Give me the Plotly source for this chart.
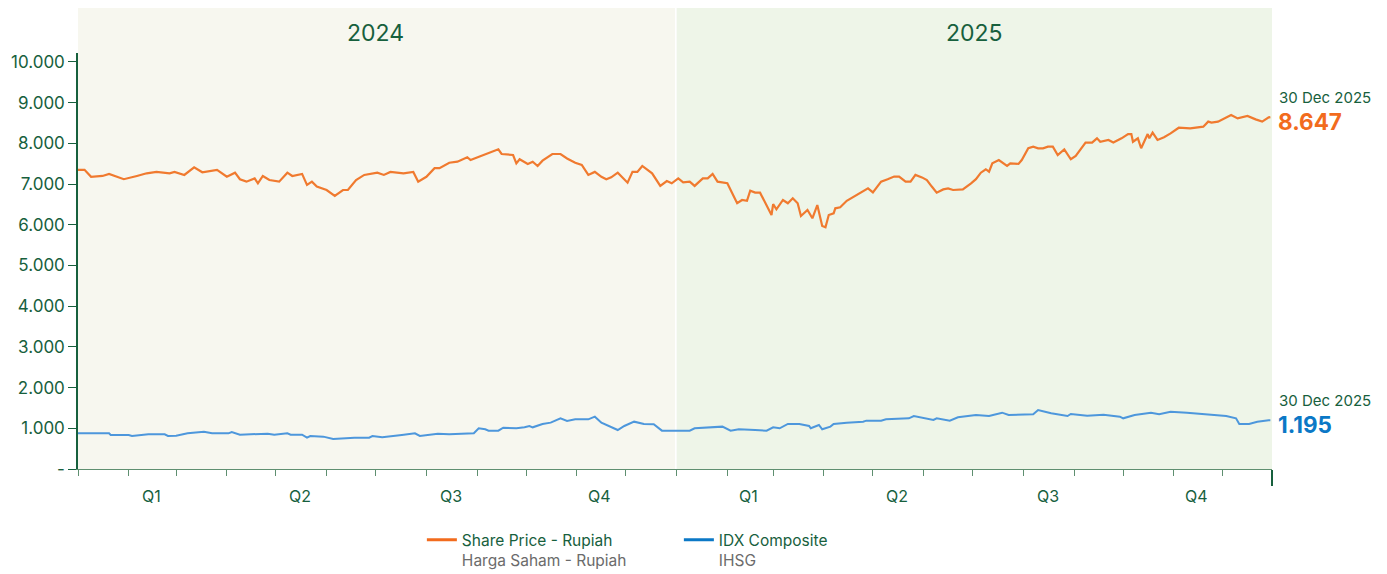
import plotly.graph_objects as go

# ---------------- data ----------------
share_dates = [
    "2024-01-01","2024-01-05","2024-01-09","2024-01-16","2024-01-20","2024-01-29","2024-02-06","2024-02-12",
    "2024-02-18","2024-02-26","2024-02-29","2024-03-06","2024-03-12","2024-03-17","2024-03-26","2024-04-01",
    "2024-04-06","2024-04-09","2024-04-13","2024-04-18","2024-04-20","2024-04-23","2024-04-27","2024-05-03",
    "2024-05-08","2024-05-11","2024-05-17","2024-05-20","2024-05-23","2024-05-26","2024-06-01","2024-06-06",
    "2024-06-11","2024-06-14","2024-06-19","2024-06-24","2024-07-02","2024-07-06","2024-07-10","2024-07-18",
    "2024-07-24","2024-07-27","2024-08-01","2024-08-06","2024-08-09","2024-08-15","2024-08-20","2024-08-26",
    "2024-08-28","2024-09-03","2024-09-07","2024-09-14","2024-09-16","2024-09-23","2024-09-25","2024-09-27",
    "2024-10-02","2024-10-05","2024-10-08","2024-10-11","2024-10-17","2024-10-22","2024-10-26","2024-10-31",
    "2024-11-04","2024-11-08","2024-11-12","2024-11-16","2024-11-19","2024-11-22","2024-11-26","2024-12-02",
    "2024-12-05","2024-12-08","2024-12-11","2024-12-17","2024-12-22","2024-12-26","2024-12-29","2025-01-02",
    "2025-01-05","2025-01-09","2025-01-12","2025-01-17","2025-01-20","2025-01-23","2025-01-26","2025-02-01",
    "2025-02-04","2025-02-07","2025-02-10","2025-02-13","2025-02-15","2025-02-18","2025-02-21","2025-02-24",
    "2025-02-28","2025-03-01","2025-03-03","2025-03-07","2025-03-10","2025-03-13","2025-03-16","2025-03-18",
    "2025-03-22","2025-03-25","2025-03-28","2025-03-31","2025-04-02","2025-04-04","2025-04-07","2025-04-08",
    "2025-04-11","2025-04-15","2025-04-19","2025-04-23","2025-04-28","2025-05-01","2025-05-06","2025-05-10",
    "2025-05-14","2025-05-17","2025-05-21","2025-05-24","2025-05-27","2025-05-31","2025-06-03","2025-06-06",
    "2025-06-09","2025-06-13","2025-06-16","2025-06-19","2025-06-25","2025-06-30","2025-07-03","2025-07-06",
    "2025-07-09","2025-07-11","2025-07-13","2025-07-17","2025-07-20","2025-07-22","2025-07-24","2025-07-29",
    "2025-07-31","2025-08-04","2025-08-07","2025-08-10","2025-08-13","2025-08-16","2025-08-19","2025-08-22",
    "2025-08-26","2025-08-30","2025-09-02","2025-09-08","2025-09-12","2025-09-15","2025-09-17","2025-09-22",
    "2025-09-25","2025-09-30","2025-10-04","2025-10-06","2025-10-07","2025-10-10","2025-10-12","2025-10-16",
    "2025-10-17","2025-10-19","2025-10-22","2025-10-26","2025-10-30","2025-11-04","2025-11-11","2025-11-14",
    "2025-11-19","2025-11-22","2025-11-24","2025-11-28","2025-12-02","2025-12-06","2025-12-10","2025-12-16",
    "2025-12-21","2025-12-25","2025-12-29","2025-12-30",
]
share_values = [
    7350,7350,7180,7200,7250,7120,7200,7265,
    7300,7265,7300,7225,7410,7290,7350,7180,
    7280,7120,7060,7140,7020,7200,7100,7060,
    7280,7200,7250,6980,7060,6940,6855,6710,
    6855,6855,7100,7225,7280,7225,7300,7265,
    7300,7060,7180,7390,7390,7525,7550,7660,
    7590,7690,7755,7855,7740,7715,7510,7610,
    7495,7550,7445,7575,7740,7740,7630,7525,
    7470,7225,7300,7180,7120,7165,7280,7035,
    7300,7300,7445,7265,6955,7075,7020,7140,
    7045,7060,6955,7140,7140,7250,7060,7020,
    6775,6530,6610,6590,6840,6790,6790,6570,
    6240,6510,6380,6610,6530,6650,6530,6215,
    6365,6160,6485,5970,5940,6240,6280,6405,
    6430,6590,6690,6775,6895,6795,7060,7120,
    7185,7185,7060,7060,7225,7165,7100,6940,
    6790,6870,6895,6855,6870,7020,7120,7280,
    7365,7305,7510,7590,7510,7445,7510,7495,
    7590,7880,7920,7880,7880,7920,7920,7715,
    7855,7610,7690,8020,8020,8125,8040,8085,
    8020,8125,8230,8230,8040,8125,7880,8230,
    8125,8265,8085,8150,8245,8385,8370,8385,
    8410,8535,8510,8535,8615,8700,8615,8675,
    8590,8535,8640,8647,
]

idx_dates = [
    "2024-01-01","2024-01-20","2024-01-21","2024-02-01","2024-02-03","2024-02-09","2024-02-13","2024-02-23",
    "2024-02-25","2024-03-01","2024-03-08","2024-03-18","2024-03-23","2024-04-02","2024-04-04","2024-04-09",
    "2024-04-24","2024-04-26","2024-04-30","2024-05-08","2024-05-10","2024-05-17","2024-05-20","2024-05-22",
    "2024-05-30","2024-06-05","2024-06-18","2024-06-27","2024-06-29","2024-07-05","2024-07-17","2024-07-25",
    "2024-07-28","2024-08-08","2024-08-15","2024-08-30","2024-09-02","2024-09-06","2024-09-08","2024-09-14",
    "2024-09-17","2024-09-25","2024-09-30","2024-10-03","2024-10-05","2024-10-11","2024-10-16","2024-10-22",
    "2024-10-26","2024-10-31","2024-11-08","2024-11-12","2024-11-16","2024-11-21","2024-11-26","2024-11-30",
    "2024-12-06","2024-12-12","2024-12-18","2024-12-23","2025-01-01","2025-01-09","2025-01-12","2025-01-27",
    "2025-01-29","2025-02-03","2025-02-08","2025-02-18","2025-02-25","2025-03-01","2025-03-05","2025-03-10",
    "2025-03-17","2025-03-23","2025-03-24","2025-03-29","2025-03-31","2025-04-05","2025-04-07","2025-04-15",
    "2025-04-25","2025-04-27","2025-05-06","2025-05-09","2025-05-23","2025-05-26","2025-06-07","2025-06-09",
    "2025-06-17","2025-06-22","2025-07-03","2025-07-11","2025-07-19","2025-07-23","2025-08-07","2025-08-10",
    "2025-08-18","2025-08-28","2025-08-30","2025-09-09","2025-09-19","2025-09-29","2025-10-01","2025-10-08",
    "2025-10-18","2025-10-23","2025-10-30","2025-11-09","2025-11-21","2025-12-03","2025-12-09","2025-12-11",
    "2025-12-17","2025-12-22","2025-12-29","2025-12-30",
]
idx_values = [
    877,877,835,835,811,835,852,852,
    811,820,877,917,877,877,909,843,
    852,868,843,877,843,843,770,811,
    795,737,770,770,811,778,835,877,
    811,868,852,877,1000,975,942,942,
    1016,1000,1024,1057,1024,1106,1139,1245,
    1180,1220,1220,1286,1139,1057,958,1057,
    1163,1106,1098,942,942,942,1000,1024,
    1041,942,975,958,942,1024,1000,1106,
    1106,1057,1000,1082,975,1041,1106,1139,
    1163,1188,1188,1220,1245,1302,1204,1245,
    1188,1270,1327,1302,1384,1327,1343,1450,
    1368,1302,1351,1310,1335,1286,1245,1327,
    1384,1343,1408,1384,1351,1302,1245,1106,
    1106,1163,1195,1195,
]

years = ["2024", "2025"]
year_starts = ["2024-01-01", "2025-01-01"]
year_ends = ["2024-12-31", "2025-12-31"]
year_mids = ["2024-07-01", "2025-07-02"]
year_fills = ["#f7f7ef", "#eef5e8"]

quarter_labels = ["Q1", "Q2", "Q3", "Q4", "Q1", "Q2", "Q3", "Q4"]
quarter_mids = ["2024-02-15", "2024-05-16", "2024-08-16", "2024-11-15",
                "2025-02-14", "2025-05-16", "2025-08-16", "2025-11-15"]
quarter_bounds = ["2024-01-01", "2024-04-01", "2024-07-01", "2024-10-01", "2025-01-01",
                  "2025-04-01", "2025-07-01", "2025-10-01", "2025-12-31"]
month_starts = ["2024-%02d-01" % m for m in range(1, 13)] + ["2025-%02d-01" % m for m in range(1, 13)]

y_ticks = [0, 1000, 2000, 3000, 4000, 5000, 6000, 7000, 8000, 9000, 10000]
y_ticktext = ["-", "1.000", "2.000", "3.000", "4.000", "5.000", "6.000", "7.000", "8.000", "9.000", "10.000"]

last_label = "30 Dec 2025"
share_last_text = "8.647"
idx_last_text = "1.195"

# ---------------- styling ----------------
GREEN = "#17603d"
ORANGE = "#f07a2f"
ORANGE_TXT = "#f26b1d"
BLUE_LINE = "#4d97dc"
BLUE = "#0b78c6"
FONT = "Inter"

fig = go.Figure()

fig.add_trace(go.Scatter(x=share_dates, y=share_values, mode="lines",
                         line=dict(color=ORANGE, width=2.2), showlegend=False, hoverinfo="skip"))
fig.add_trace(go.Scatter(x=idx_dates, y=idx_values, mode="lines",
                         line=dict(color=BLUE_LINE, width=2), showlegend=False, hoverinfo="skip"))

# legend-only entries
fig.add_trace(go.Scatter(x=[None], y=[None], mode="lines", line=dict(color=ORANGE_TXT, width=3),
                         name="Share Price - Rupiah<br><span style='color:#6b6b6b'>Harga Saham - Rupiah</span>"))
fig.add_trace(go.Scatter(x=[None], y=[None], mode="lines", line=dict(color=BLUE, width=3),
                         name="IDX Composite<br><span style='color:#6b6b6b'>IHSG</span>"))

shapes = []
for s, e, c in zip(year_starts, year_ends, year_fills):
    shapes.append(dict(type="rect", xref="x", yref="paper", x0=s, x1=e, y0=0, y1=1.1106,
                       fillcolor=c, line=dict(width=0), layer="below"))

annotations = []
for y, m in zip(years, year_mids):
    annotations.append(dict(x=m, y=1.048, xref="x", yref="paper", text=y, showarrow=False,
                            font=dict(family=FONT, size=23, color=GREEN), xanchor="center", yanchor="middle"))
for q, m in zip(quarter_labels, quarter_mids):
    annotations.append(dict(x=m, y=-0.064, xref="x", yref="paper", text=q, showarrow=False,
                            font=dict(family=FONT, size=16, color=GREEN), xanchor="center", yanchor="middle"))

for val, txt, col in [(share_values[-1], share_last_text, ORANGE_TXT), (idx_values[-1], idx_last_text, BLUE)]:
    annotations.append(dict(x=1.004, y=val, xref="paper", yref="y", text=last_label, showarrow=False,
                            xanchor="left", yanchor="middle", yshift=20,
                            font=dict(family=FONT, size=15, color=GREEN)))
    annotations.append(dict(x=1.003, y=val, xref="paper", yref="y", text="<b>" + txt + "</b>", showarrow=False,
                            xanchor="left", yanchor="middle", yshift=-4,
                            font=dict(family=FONT, size=22.5, color=col)))

# the page body adds an 8px offset, so the figure is 8px smaller and margins are compensated
fig.update_layout(
    width=1379, height=566,
    margin=dict(l=70, r=115, t=45, b=105, autoexpand=False),
    paper_bgcolor="white", plot_bgcolor="rgba(0,0,0,0)",
    font=dict(family=FONT, color=GREEN),
    shapes=shapes, annotations=annotations,
    legend=dict(orientation="h", x=0.288, y=-0.13, xanchor="left", yanchor="top",
                font=dict(family=FONT, size=15.5, color=GREEN), valign="top",
                entrywidth=212, entrywidthmode="pixels", tracegroupgap=0, bgcolor="rgba(0,0,0,0)"),
    xaxis=dict(range=["2024-01-01", "2025-12-31"], type="date", showgrid=False, zeroline=False,
               showline=True, linecolor="#5f8f70", linewidth=1,
               tickmode="array", tickvals=quarter_bounds, ticktext=[""] * len(quarter_bounds),
               ticks="outside", ticklen=16, tickwidth=2, tickcolor=GREEN,
               minor=dict(tickmode="array", tickvals=month_starts, ticks="outside", ticklen=6,
                          tickwidth=1, tickcolor="#5f8f70", showgrid=False)),
    yaxis=dict(range=[0, 10221], showgrid=False, zeroline=False, showline=True, linecolor=GREEN,
               linewidth=1.5, tickmode="array", tickvals=y_ticks, ticktext=y_ticktext,
               ticks="outside", ticklen=8, tickcolor=GREEN, tickwidth=1,
               tickfont=dict(family=FONT, size=17, color=GREEN)),
)

fig.write_html("out.html")
